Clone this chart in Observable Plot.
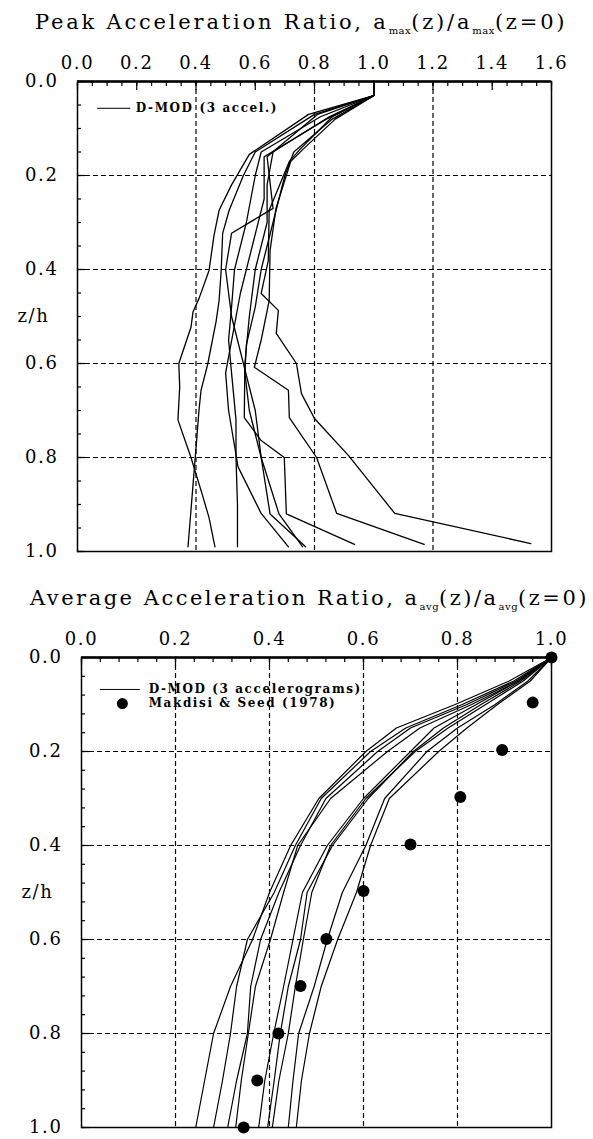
<!DOCTYPE html>
<html><head><meta charset="utf-8">
<script src="https://cdn.jsdelivr.net/npm/d3@7"></script>
<script src="https://cdn.jsdelivr.net/npm/@observablehq/plot@0.6"></script>
<style>
body{margin:0;background:#fff;width:593px;}
.title{font-family:"DejaVu Serif",serif;font-size:21px;color:#000;white-space:nowrap;letter-spacing:2.8px;box-sizing:border-box;}
.title sub{font-size:10px;letter-spacing:0.5px;}
#t1{height:40px;padding-left:35px;line-height:44px;}
#t2{height:55px;padding-left:30px;padding-top:26px;line-height:24px;letter-spacing:2.5px;}
svg{display:block;}
</style></head><body>
<div id="t1" class="title">Peak Acceleration Ratio, a<sub>max</sub>(z)/a<sub>max</sub>(z=0)</div>
<div id="p1"></div>
<div id="t2" class="title">Average Acceleration Ratio, a<sub>avg</sub>(z)/a<sub>avg</sub>(z=0)</div>
<div id="p2"></div>
<script>
// ---------- Peak acceleration ratio (top panel): [ratio, z/h] ----------
const peak1 = [[1,0],[1,0.03],[0.78,0.07],[0.58,0.155],[0.52,0.22],[0.478,0.274],[0.461,0.327],[0.444,0.402],[0.41,0.462],[0.39,0.49],[0.383,0.523],[0.342,0.6],[0.345,0.65],[0.339,0.72],[0.383,0.8],[0.417,0.87],[0.444,0.928],[0.464,0.99]];
const peak2 = [[1,0],[1,0.03],[0.80,0.07],[0.60,0.15],[0.56,0.2],[0.512,0.274],[0.49,0.323],[0.485,0.402],[0.478,0.466],[0.468,0.51],[0.44,0.6],[0.417,0.657],[0.41,0.7],[0.40,0.78],[0.373,0.99]];
const peak3 = [[1,0],[1,0.03],[0.82,0.075],[0.62,0.15],[0.60,0.2],[0.57,0.3],[0.53,0.4],[0.52,0.48],[0.51,0.55],[0.52,0.62],[0.535,0.72],[0.535,0.8],[0.54,0.9],[0.54,0.99]];
const peak4 = [[1,0],[1,0.03],[0.84,0.08],[0.63,0.16],[0.63,0.25],[0.59,0.35],[0.55,0.45],[0.50,0.62],[0.51,0.70],[0.542,0.82],[0.62,0.919],[0.712,0.99]];
const peak5 = [[1,0],[1,0.03],[0.81,0.07],[0.64,0.16],[0.66,0.27],[0.52,0.323],[0.50,0.4],[0.52,0.5],[0.56,0.6],[0.60,0.7],[0.62,0.8],[0.65,0.92],[0.77,0.99]];
const peak6 = [[1,0],[1,0.03],[0.86,0.08],[0.73,0.15],[0.70,0.2],[0.66,0.3],[0.62,0.4],[0.60,0.48],[0.57,0.56],[0.565,0.62],[0.58,0.7],[0.62,0.8],[0.68,0.92],[0.76,0.99]];
const peak7 = [[1,0],[1,0.03],[0.85,0.075],[0.66,0.15],[0.64,0.22],[0.64,0.3],[0.60,0.4],[0.58,0.5],[0.565,0.6],[0.563,0.715],[0.62,0.764],[0.698,0.8],[0.705,0.92],[0.935,0.985]];
const peak8 = [[1,0],[1,0.03],[0.87,0.08],[0.76,0.145],[0.72,0.17],[0.67,0.27],[0.65,0.36],[0.647,0.466],[0.62,0.55],[0.597,0.608],[0.712,0.657],[0.715,0.715],[0.807,0.8],[0.875,0.919],[1.17,0.985]];
const peak9 = [[1,0],[1,0.03],[0.86,0.075],[0.75,0.145],[0.715,0.17],[0.647,0.274],[0.644,0.381],[0.62,0.451],[0.678,0.487],[0.671,0.536],[0.739,0.6],[0.756,0.664],[0.8,0.717],[0.915,0.796],[1.071,0.919],[1.53,0.983]];
const peakCurves = [peak1,peak2,peak3,peak4,peak5,peak6,peak7,peak8,peak9];
const peakXTicks = [0,0.2,0.4,0.6,0.8,1.0,1.2,1.4,1.6];
const peakGridX = [0.4,0.8,1.2];
const peakLegend = "D-MOD (3 accel.)";

// ---------- Average acceleration ratio (bottom panel) ----------
const avgDepth = [0,0.05,0.1,0.15,0.2,0.3,0.4,0.5,0.6,0.7,0.8,0.9,1.0];
const avg1 = [1,0.91,0.795,0.67,0.605,0.505,0.445,0.40,0.364,0.317,0.281,0.262,0.243];
const avg2 = [1,0.92,0.81,0.69,0.615,0.51,0.455,0.41,0.353,0.33,0.317,0.30,0.281];
const avg3 = [1,0.925,0.82,0.70,0.63,0.52,0.466,0.42,0.381,0.36,0.353,0.33,0.311];
const avg4 = [1,0.93,0.83,0.72,0.651,0.53,0.46,0.43,0.402,0.37,0.355,0.34,0.328];
const avg5 = [1,0.93,0.84,0.75,0.70,0.60,0.523,0.47,0.45,0.43,0.409,0.39,0.377];
const avg6 = [1,0.935,0.85,0.77,0.706,0.61,0.534,0.48,0.466,0.44,0.423,0.41,0.396];
const avg7 = [1,0.94,0.86,0.78,0.71,0.605,0.53,0.49,0.472,0.455,0.44,0.42,0.406];
const avg8 = [1,0.95,0.88,0.80,0.735,0.645,0.605,0.555,0.523,0.495,0.462,0.45,0.44];
const avg9 = [1,0.955,0.885,0.82,0.76,0.655,0.615,0.585,0.545,0.51,0.485,0.468,0.457];
const avgCurves = [avg1,avg2,avg3,avg4,avg5,avg6,avg7,avg8,avg9];
const makdisiDepth = [0,0.096,0.197,0.297,0.398,0.497,0.599,0.699,0.8,0.9,1.0];
const makdisiRatio = [1.0,0.96,0.895,0.806,0.70,0.60,0.521,0.466,0.419,0.374,0.345];
const avgXTicks = [0,0.2,0.4,0.6,0.8,1.0];
const avgGridX = [0.2,0.4,0.6,0.8];
const avgLegend = ["D-MOD (3 accelerograms)", "Makdisi & Seed (1978)"];

// shared
const depthTicks = [0,0.2,0.4,0.6,0.8,1.0];
const depthGrid = [0.2,0.4,0.6,0.8];
const depthLabel = "z/h";

const peakRows = peakCurves.flatMap((c,i)=>c.map(([r,z])=>({curve:i, ratio:r, depth:z})));
const avgRows = avgCurves.flatMap((c,i)=>c.map((r,j)=>({curve:i, ratio:r, depth:avgDepth[j]})));
const makRows = makdisiRatio.map((r,i)=>({ratio:r, depth:makdisiDepth[i]}));
const range = (a,b,s)=>d3.range(Math.round((b-a)/s)+1).map(i=>+(a+i*s).toFixed(3));

const FONT = "DejaVu Serif";
const style = {fontFamily: FONT, fontSize: "18px", color: "black", background: "white", letterSpacing: "1.6px"};
const dash = {stroke:"black", strokeWidth:1.2, strokeDasharray:"5,3"};

function commonAxes(xTicks, xMinor, yMinor){
  return [
    Plot.axisX(xMinor, {anchor:"top", tickSize:-4, tickFormat:()=>"", label:null, strokeWidth:1.2}),
    Plot.axisX(xTicks, {anchor:"top", tickSize:-8, tickPadding:21, tickFormat:d=>d.toFixed(1), label:null, strokeWidth:1.2}),
    Plot.axisY(yMinor, {anchor:"left", tickSize:-4, tickFormat:()=>"", label:null, strokeWidth:1.2}),
    Plot.axisY(depthTicks, {anchor:"left", tickSize:-8, tickPadding:27, tickFormat:d=>d.toFixed(1), label:null, strokeWidth:1.2}),
    Plot.text([depthLabel], {y:()=>0.5, text:d=>d, frameAnchor:"left", textAnchor:"start", dx:-60, fontSize:18})
  ];
}

const peakPlot = Plot.plot({
  width:593, height:520, marginTop:41, marginBottom:9, marginLeft:77, marginRight:42,
  x:{domain:[0,1.6]}, y:{domain:[0,1], reverse:true},
  style,
  marks:[
    Plot.ruleX(peakGridX, dash),
    Plot.ruleY(depthGrid, dash),
    Plot.frame({stroke:"black", strokeWidth:1.5}),
    Plot.ruleY([0], {stroke:"black", strokeWidth:2.5}),
    ...commonAxes(peakXTicks, range(0,1.6,0.05), range(0,1,0.05)),
    Plot.line(peakRows, {x:"ratio", y:"depth", z:"curve", stroke:"black", strokeWidth:1.3}),
    Plot.ruleY([0.057], {x1:0.068, x2:0.18, stroke:"black", strokeWidth:1}),
    Plot.text([peakLegend], {x:()=>0.197, y:()=>0.057, text:d=>d, textAnchor:"start", fontSize:12, fontWeight:"bold", letterSpacing:"0.8px"})
  ]
});
document.getElementById("p1").appendChild(peakPlot);

const avgPlot = Plot.plot({
  width:593, height:524, marginTop:42, marginBottom:12, marginLeft:81, marginRight:42,
  x:{domain:[0,1]}, y:{domain:[0,1], reverse:true},
  style,
  marks:[
    Plot.ruleX(avgGridX, dash),
    Plot.ruleY(depthGrid, dash),
    Plot.frame({stroke:"black", strokeWidth:1.5}),
    Plot.ruleY([0], {stroke:"black", strokeWidth:2.5}),
    ...commonAxes(avgXTicks, range(0,1,0.04), range(0,1,0.04)),
    Plot.line(avgRows, {x:"ratio", y:"depth", z:"curve", stroke:"black", strokeWidth:1.2}),
    Plot.dot(makRows, {x:"ratio", y:"depth", r:6, fill:"black", stroke:"none"}),
    Plot.ruleY([0.068], {x1:0.04, x2:0.125, stroke:"black", strokeWidth:1}),
    Plot.dot([avgLegend[1]], {x:()=>0.087, y:()=>0.098, r:5.5, fill:"black"}),
    Plot.text(avgLegend, {x:()=>0.143, y:(d,i)=>[0.068,0.098][i], text:d=>d, textAnchor:"start", fontSize:12, fontWeight:"bold", letterSpacing:"0.5px"})
  ]
});
document.getElementById("p2").appendChild(avgPlot);
</script>
</body></html>
